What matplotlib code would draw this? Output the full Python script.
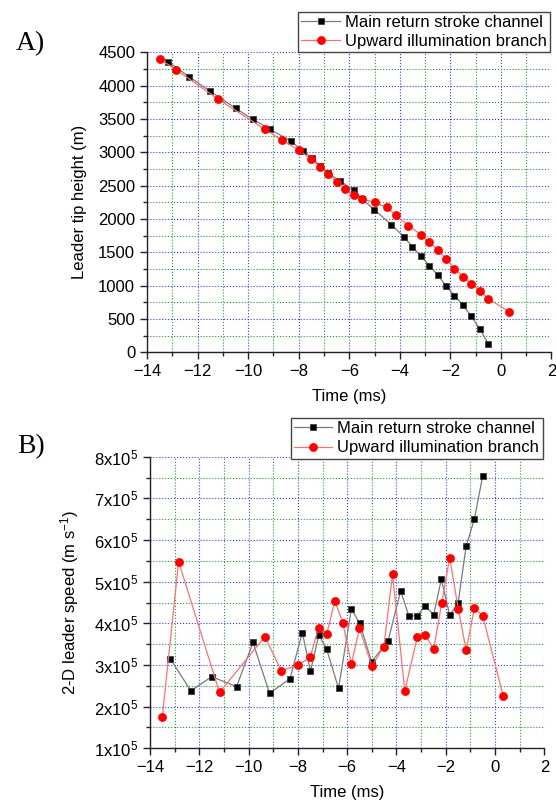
"""
Leader tip height and 2-D leader speed versus time for the two channels.
"""
import matplotlib
matplotlib.use("Agg")
import matplotlib.pyplot as plt
from matplotlib.ticker import MultipleLocator, FuncFormatter

plt.rcParams["font.family"] = "Liberation Sans"
plt.rcParams["font.size"] = 12
plt.rcParams["mathtext.fontset"] = "custom"
plt.rcParams["mathtext.rm"] = "Liberation Sans"
plt.rcParams["mathtext.it"] = "Liberation Sans:italic"

# ---------------------------------------------------------------------------
# Data
# ---------------------------------------------------------------------------
main_label = "Main return stroke channel"
branch_label = "Upward illumination branch"

# time of each frame (ms)
main_t = [-13.17, -12.34, -11.50, -10.49, -9.82, -9.15, -8.32, -7.82, -7.49,
          -7.15, -6.83, -6.35, -5.83, -5.49, -5.01, -4.34, -3.83, -3.50,
          -3.16, -2.83, -2.49, -2.18, -1.84, -1.50, -1.17, -0.84, -0.50]
branch_t = [-13.50, -12.84, -11.18, -9.34, -8.67, -8.00, -7.50, -7.16, -6.83,
            -6.50, -6.18, -5.83, -5.50, -5.00, -4.51, -4.16, -3.66, -3.16,
            -2.83, -2.49, -2.16, -1.84, -1.49, -1.17, -0.84, -0.50, 0.33]

# leader tip height (m)
main_height = [4360, 4135, 3915, 3660, 3495, 3350, 3170, 3015, 2920,
               2795, 2685, 2565, 2430, 2295, 2140, 1915, 1730, 1580,
               1440, 1300, 1155, 1000, 850, 705, 540, 350, 130]
branch_height = [4400, 4235, 3795, 3345, 3185, 3035, 2895, 2785, 2670,
                 2560, 2455, 2365, 2300, 2250, 2175, 2055, 1900, 1765,
                 1650, 1530, 1400, 1255, 1130, 1030, 925, 805, 605]

# 2-D leader speed (m/s)
main_speed = [3.14e5, 2.38e5, 2.72e5, 2.48e5, 3.54e5, 2.32e5, 2.67e5, 3.78e5,
              2.85e5, 3.72e5, 3.38e5, 2.44e5, 4.34e5, 4.00e5, 3.08e5, 3.58e5,
              4.78e5, 4.18e5, 4.18e5, 4.42e5, 4.20e5, 5.06e5, 4.20e5, 4.48e5,
              5.86e5, 6.50e5, 7.54e5]
branch_speed = [1.76e5, 5.48e5, 2.34e5, 3.68e5, 2.86e5, 3.00e5, 3.18e5, 3.90e5,
                3.74e5, 4.54e5, 4.02e5, 3.02e5, 3.88e5, 2.98e5, 3.44e5, 5.18e5,
                2.38e5, 3.66e5, 3.72e5, 3.38e5, 4.50e5, 5.58e5, 4.34e5, 3.35e5,
                4.36e5, 4.18e5, 2.26e5]


# ---------------------------------------------------------------------------
# Helpers
# ---------------------------------------------------------------------------
def style_axes(ax):
    for side in ("top", "right"):
        ax.spines[side].set_visible(False)
    for side in ("left", "bottom"):
        ax.spines[side].set_linewidth(1.0)
        ax.spines[side].set_color("#222222")
    ax.set_axisbelow(True)
    ax.grid(which="major", color="#3a3aff", ls=":", lw=0.8)
    ax.grid(which="minor", color="#2a9a2a", ls=":", lw=0.8)
    ax.tick_params(which="major", direction="out", length=5, width=1.0,
                   color="#222222", labelsize=12, pad=3.5)
    ax.tick_params(which="minor", direction="out", length=3, width=1.0,
                   color="#222222")
    ax.xaxis.set_major_locator(MultipleLocator(2))
    ax.xaxis.set_minor_locator(MultipleLocator(1))
    ax.set_xlim(-14, 2)
    ax.set_xlabel("Time (ms)", fontsize=12, labelpad=7)


def draw_series(ax, main_y, branch_y):
    ax.plot(main_t, main_y, color="#7a7a7a", lw=0.9, marker="s", ms=5.0,
            mfc="black", mec="#303030", mew=0.5, label=main_label, zorder=3)
    ax.plot(branch_t, branch_y, color="#ff7070", lw=0.9, marker="o", ms=5.8,
            mfc="#ff0000", mec="#ff0000", mew=0.5, label=branch_label, zorder=4)


def add_legend(ax, anchor):
    leg = ax.legend(loc="lower right", bbox_to_anchor=anchor,
                    bbox_transform=fig.transFigure, fontsize=12,
                    frameon=True, fancybox=False, framealpha=1.0,
                    edgecolor="#444444", borderpad=0.2, labelspacing=0.25,
                    handlelength=2.3, handletextpad=0.3, borderaxespad=0,
                    numpoints=1)
    leg.get_frame().set_linewidth(1.0)
    return leg


fig = plt.figure(figsize=(5.56, 8.01), dpi=100)

# ---------------------------------------------------------------------------
# (A) Leader tip height
# ---------------------------------------------------------------------------
ax_a = fig.add_axes([0.2644, 0.5602, 0.7275, 0.3745])
style_axes(ax_a)
draw_series(ax_a, main_height, branch_height)
ax_a.set_ylim(0, 4500)
ax_a.yaxis.set_major_locator(MultipleLocator(500))
ax_a.yaxis.set_minor_locator(MultipleLocator(250))
ax_a.set_ylabel("Leader tip height (m)", fontsize=12, labelpad=8)
add_legend(ax_a, (0.989, 0.9345))
fig.text(0.055, 0.945, "A)", family="Liberation Serif", fontsize=20,
         ha="center", va="center")

# ---------------------------------------------------------------------------
# (B) 2-D leader speed
# ---------------------------------------------------------------------------
ax_b = fig.add_axes([0.2698, 0.0658, 0.7092, 0.3640])
style_axes(ax_b)
draw_series(ax_b, main_speed, branch_speed)
ax_b.set_ylim(1e5, 8e5)
ax_b.yaxis.set_major_locator(MultipleLocator(1e5))
ax_b.yaxis.set_minor_locator(MultipleLocator(0.5e5))
ax_b.yaxis.set_major_formatter(
    FuncFormatter(lambda v, _: r"$\mathregular{%dx10^5}$" % round(v / 1e5)))
ax_b.set_ylabel(r"2-D leader speed (m s$\mathregular{^{-1}}$)", fontsize=12,
                labelpad=9)
add_legend(ax_b, (0.976, 0.4273))
fig.text(0.055, 0.443, "B)", family="Liberation Serif", fontsize=20,
         ha="center", va="center")

plt.savefig("out.png", dpi=100)
plt.close()
